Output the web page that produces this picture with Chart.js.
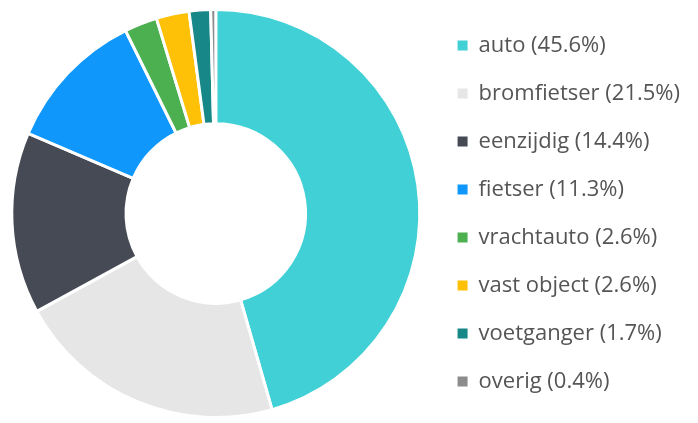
<!DOCTYPE html>
<html>
<head>
<meta charset="utf-8">
<script src="https://cdn.jsdelivr.net/npm/chart.js@4"></script>
<style>
  html, body { margin: 0; padding: 0; background: #fff; }
  #wrap { width: 698px; height: 423px; }
</style>
</head>
<body>
<div id="wrap"><canvas id="donut-chart"></canvas></div>
<script>
const categories = ["auto", "bromfietser", "eenzijdig", "fietser", "vrachtauto", "vast object", "voetganger", "overig"];
const shares = [45.6, 21.5, 14.4, 11.3, 2.6, 2.6, 1.7, 0.4];
const sliceColors = ["#40d0d5", "#e6e6e6", "#454a54", "#0f97fb", "#4caf50", "#fec107", "#178787", "#8c8c8c"];

const donutChart = document.getElementById("donut-chart");
new Chart(donutChart, {
  type: "doughnut",
  data: {
    labels: categories,
    datasets: [
      {
        data: shares,
        backgroundColor: sliceColors,
        borderColor: "#ffffff",
        borderWidth: 3,
      },
    ],
  },
  options: {
    responsive: true,
    maintainAspectRatio: false,
    animation: false,
    cutout: "44%",
    layout: { padding: { left: 0, top: 8, bottom: 4, right: 8 } },
    plugins: {
      tooltip: { enabled: false },
      legend: {
        position: "right",
        align: "center",
        labels: {
          color: "#555555",
          boxWidth: 10,
          boxHeight: 10,
          padding: 26,
          font: { family: "'Open Sans', sans-serif", size: 22 },
          generateLabels: (chart) =>
            categories.map((name, i) => ({
              text: `${name} (${shares[i]}%)`,
              fillStyle: sliceColors[i],
              strokeStyle: sliceColors[i],
              lineWidth: 0,
              fontColor: "#555555",
              index: i,
            })),
        },
      },
    },
  },
});
</script>
</body>
</html>
